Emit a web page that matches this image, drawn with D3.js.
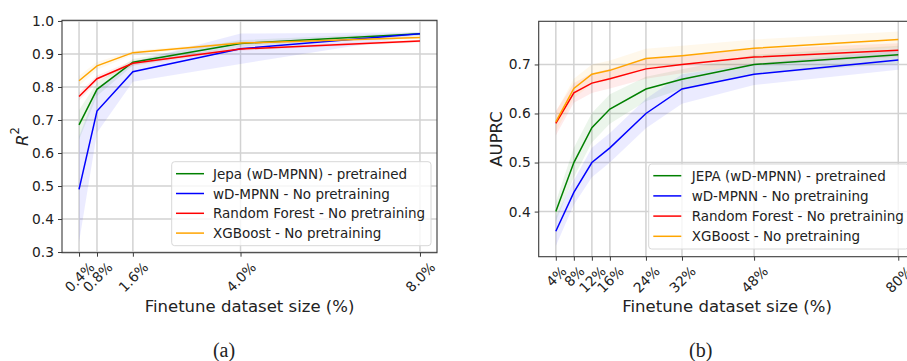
<!DOCTYPE html>
<html>
<head>
<meta charset="utf-8">
<script src="https://cdn.jsdelivr.net/npm/d3@7"></script>
<style>
  html, body { margin: 0; padding: 0; background: #fff; }
  svg { display: block; font-family: "DejaVu Sans", sans-serif; }
</style>
</head>
<body>
<svg id="fig" width="907" height="361"></svg>
<script>
// ---- Panel (a): R² vs finetune dataset size ----
const sizesA = [0.4, 0.8, 1.6, 4.0, 8.0];
const tickLabelsA = ["0.4%", "0.8%", "1.6%", "4.0%", "8.0%"];
const yTicksA = [0.3, 0.4, 0.5, 0.6, 0.7, 0.8, 0.9, 1.0];
const jepaA   = [0.685, 0.793, 0.875, 0.932, 0.961];
const jepaSdA = [0.045, 0.02, 0.01, 0.01, 0.005];
const mpnnA   = [0.49, 0.727, 0.846, 0.916, 0.961];
const mpnnSdA = [0.16, 0.066, 0.03, 0.046, 0.005];
const rfA     = [0.771, 0.825, 0.872, 0.915, 0.939];
const rfSdA   = [0.012, 0.01, 0.008, 0.005, 0.004];
const xgbA    = [0.819, 0.864, 0.904, 0.933, 0.95];
const xgbSdA  = [0.015, 0.012, 0.006, 0.005, 0.004];
const legendA = ["Jepa (wD-MPNN) - pretrained", "wD-MPNN - No pretraining",
                 "Random Forest - No pretraining", "XGBoost - No pretraining"];

// ---- Panel (b): AUPRC vs finetune dataset size ----
const sizesB = [4, 8, 12, 16, 24, 32, 48, 80];
const tickLabelsB = ["4%", "8%", "12%", "16%", "24%", "32%", "48%", "80%"];
const yTicksB = [0.4, 0.5, 0.6, 0.7];
const jepaB   = [0.40, 0.50, 0.571, 0.609, 0.650, 0.670, 0.700, 0.720];
const jepaSdB = [0.02, 0.03, 0.03, 0.03, 0.025, 0.02, 0.02, 0.018];
const mpnnB   = [0.36, 0.439, 0.50, 0.53, 0.60, 0.65, 0.68, 0.709];
const mpnnSdB = [0.03, 0.025, 0.03, 0.03, 0.03, 0.03, 0.022, 0.02];
const rfB     = [0.58, 0.642, 0.662, 0.671, 0.691, 0.70, 0.715, 0.729];
const rfSdB   = [0.025, 0.02, 0.02, 0.02, 0.02, 0.018, 0.016, 0.014];
const xgbB    = [0.583, 0.651, 0.680, 0.688, 0.712, 0.718, 0.733, 0.751];
const xgbSdB  = [0.02, 0.02, 0.02, 0.02, 0.02, 0.02, 0.018, 0.016];
const legendB = ["JEPA (wD-MPNN) - pretrained", "wD-MPNN - No pretraining",
                 "Random Forest - No pretraining", "XGBoost - No pretraining"];

const seriesColors = ["#008000", "#0000ff", "#ff0000", "#ffa500"];

const svg = d3.select("#fig");
const TICK_FONT = 13.8;
const LEGEND_FONT = 13.5;
const LABEL_FONT = 16.5;

function drawPanel(cfg) {
  const { left, right, top, bottom, xDomain, yDomain, xs, xLabels, yTicks,
          yFormat, series, legendNames, legendBox, yLabel, caption } = cfg;

  const x = d3.scaleLinear().domain(xDomain).range([left, right]);
  const y = d3.scaleLinear().domain(yDomain).range([bottom, top]);
  const g = svg.append("g");

  // grid
  const grid = g.append("g").attr("stroke", "#d2d2d2").attr("stroke-width", 1.5);
  grid.selectAll("line.v").data(xs).join("line")
    .attr("x1", d => x(d)).attr("x2", d => x(d)).attr("y1", top).attr("y2", bottom);
  grid.selectAll("line.h").data(yTicks).join("line")
    .attr("y1", d => y(d)).attr("y2", d => y(d)).attr("x1", left).attr("x2", right);

  // bands and lines
  const area = d3.area().x(d => x(d.x)).y0(d => y(d.m - d.s)).y1(d => y(d.m + d.s));
  const line = d3.line().x(d => x(d.x)).y(d => y(d.m));
  series.forEach((s, i) => {
    const pts = xs.map((xv, j) => ({ x: xv, m: s.mean[j], s: s.sd[j] }));
    g.append("path").datum(pts).attr("d", area)
      .attr("fill", seriesColors[i]).attr("fill-opacity", 0.08).attr("stroke", "none");
  });
  series.forEach((s, i) => {
    const pts = xs.map((xv, j) => ({ x: xv, m: s.mean[j], s: s.sd[j] }));
    g.append("path").datum(pts).attr("d", line)
      .attr("fill", "none").attr("stroke", seriesColors[i]).attr("stroke-width", 1.5);
  });

  // frame
  g.append("rect").attr("x", left).attr("y", top)
    .attr("width", right - left).attr("height", bottom - top)
    .attr("fill", "none").attr("stroke", "#3a3a3a").attr("stroke-width", 1.1);

  // y axis
  const yAxis = d3.axisLeft(y).tickValues(yTicks).tickFormat(yFormat)
    .tickSize(4).tickPadding(4);
  const ya = g.append("g").attr("transform", `translate(${left},0)`).call(yAxis);
  ya.select(".domain").remove();
  ya.selectAll(".tick line").attr("stroke", "#3a3a3a");
  ya.selectAll(".tick text").attr("font-size", TICK_FONT).attr("fill", "#222")
    .attr("font-family", "DejaVu Sans");

  // x axis with rotated labels
  const xAxis = d3.axisBottom(x).tickValues(xs).tickFormat((d, i) => xLabels[i])
    .tickSize(4);
  const xa = g.append("g").attr("transform", `translate(0,${bottom})`).call(xAxis);
  xa.select(".domain").remove();
  xa.selectAll(".tick line").attr("stroke", "#3a3a3a");
  xa.selectAll(".tick text")
    .attr("font-size", TICK_FONT).attr("fill", "#222").attr("font-family", "DejaVu Sans")
    .attr("text-anchor", "middle").attr("dy", null).attr("y", 0)
    .attr("dominant-baseline", "central")
    .each(function () {
      const w = this.getComputedTextLength();
      const cy = 8 + (w + 11) * 0.3536;
      d3.select(this).attr("transform", `translate(0,${cy}) rotate(-45)`);
    });

  // axis labels
  g.append("text").attr("x", (left + right) / 2).attr("y", 306.7)
    .attr("text-anchor", "middle").attr("dominant-baseline", "central")
    .attr("font-size", LABEL_FONT).attr("fill", "#222").text("Finetune dataset size (%)");
  const yl = g.append("text")
    .attr("transform", `translate(${yLabel.x},${(top + bottom) / 2}) rotate(-90)`)
    .attr("text-anchor", "middle").attr("dominant-baseline", "central")
    .attr("font-size", LABEL_FONT).attr("fill", "#222");
  if (yLabel.super) {
    yl.append("tspan").attr("font-style", "italic").text(yLabel.text);
    yl.append("tspan").attr("font-size", 11.5).attr("dy", -7).text(yLabel.super);
  } else {
    yl.text(yLabel.text);
  }

  // legend
  const lg = g.append("g");
  lg.append("rect").attr("x", legendBox.x).attr("y", legendBox.y)
    .attr("width", legendBox.w).attr("height", legendBox.h)
    .attr("rx", 3).attr("fill", "#fff").attr("fill-opacity", 0.8)
    .attr("stroke", "#d8d8d8").attr("stroke-width", 1);
  legendNames.forEach((name, i) => {
    const cy = legendBox.rowY + i * legendBox.rowH;
    lg.append("line").attr("x1", legendBox.hx).attr("x2", legendBox.hx + 28)
      .attr("y1", cy).attr("y2", cy)
      .attr("stroke", seriesColors[i]).attr("stroke-width", 1.5);
    lg.append("text").attr("x", legendBox.tx).attr("y", cy)
      .attr("dominant-baseline", "central").attr("font-size", LEGEND_FONT)
      .attr("fill", "#222").text(name);
  });

  // caption
  svg.append("text").attr("x", caption.x).attr("y", 350)
    .attr("text-anchor", "middle").attr("dominant-baseline", "central")
    .attr("font-family", "Liberation Serif, DejaVu Serif, serif")
    .attr("font-size", 20).attr("fill", "#222").text(caption.text);
}

drawPanel({
  left: 62, right: 437, top: 20.3, bottom: 252.7,
  xDomain: [0.02, 8.38], yDomain: [0.298, 1.002],
  xs: sizesA, xLabels: tickLabelsA, yTicks: yTicksA, yFormat: d3.format(".1f"),
  series: [
    { mean: jepaA, sd: jepaSdA }, { mean: mpnnA, sd: mpnnSdA },
    { mean: rfA, sd: rfSdA }, { mean: xgbA, sd: xgbSdA }
  ],
  legendNames: legendA,
  legendBox: { x: 171.7, y: 161.7, w: 259.3, h: 84, hx: 176, tx: 213, rowY: 173.7, rowH: 19.8 },
  yLabel: { x: 21.7, text: "R", super: "2" },
  caption: { x: 224, text: "(a)" }
});

drawPanel({
  left: 538.7, right: 915.4, top: 21.3, bottom: 256.7,
  xDomain: [0.2, 83.8], yDomain: [0.308, 0.788],
  xs: sizesB, xLabels: tickLabelsB, yTicks: yTicksB, yFormat: d3.format(".1f"),
  series: [
    { mean: jepaB, sd: jepaSdB }, { mean: mpnnB, sd: mpnnSdB },
    { mean: rfB, sd: rfSdB }, { mean: xgbB, sd: xgbSdB }
  ],
  legendNames: legendB,
  legendBox: { x: 648.7, y: 164, w: 260, h: 85, hx: 653.3, tx: 691.7, rowY: 175.7, rowH: 20.2 },
  yLabel: { x: 496.7, text: "AUPRC" },
  caption: { x: 700.7, text: "(b)" }
});
</script>
</body>
</html>
